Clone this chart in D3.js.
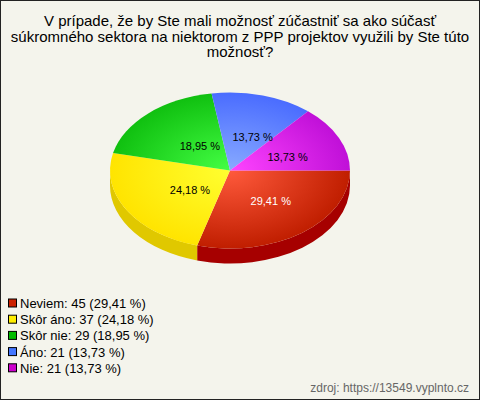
<!DOCTYPE html>
<html><head><meta charset="utf-8">
<script src="https://cdn.jsdelivr.net/npm/d3@7"></script>
<style>body{margin:0;padding:0;background:#fff}svg{display:block}</style>
</head><body>
<svg id="chart" width="480" height="400"></svg>
<script>
const titleLines = ["V prípade, že by Ste mali možnosť zúčastniť sa ako súčasť",
  "súkromného sektora na niektorom z PPP projektov využili by Ste túto",
  "možnosť?"];
const categories = ["Neviem", "Skôr áno", "Skôr nie", "Áno", "Nie"];
const counts = [45, 37, 29, 21, 21];
const topLight = ["#ff5a3c", "#ffff30", "#44ff44", "#88aaff", "#ff44ff"];
const topDark  = ["#c01e00", "#ffe400", "#10c010", "#4a6cff", "#c010d8"];
const sideColors = ["#a60000", "#e0c800", "#009000", "#2040c0", "#9000a0"];
const legendColors = ["#cc2200", "#ffee00", "#00bb00", "#4477ff", "#cc00cc"];
const labelColors = ["#ffffff", "#000000", "#000000", "#000000", "#000000"];
const sourceText = "zdroj: https://13549.vyplnto.cz";

const W = 480, H = 400;
const svg = d3.select("#chart");
svg.append("rect").attr("x",0.5).attr("y",0.5).attr("width",W-1).attr("height",H-1)
  .attr("fill","#f4f4ec").attr("stroke","#222");

svg.append("g").selectAll("text").data(titleLines).join("text")
  .attr("x", 240).attr("y", (d,i)=>26 + i*15.7)
  .attr("text-anchor","middle").attr("font-family","Liberation Sans, Arial, sans-serif")
  .attr("font-size",15).attr("fill","#000").text(d=>d);

const cx = 230, cy = 170.5, rx = 120, ry = 78, depth = 15;
const total = d3.sum(counts);
const pie = d3.pie().sort(null).startAngle(Math.PI/2).endAngle(Math.PI/2 + 2*Math.PI);
const arcs = pie(counts).map((a,i)=>({i, t0:a.startAngle-Math.PI/2, t1:a.endAngle-Math.PI/2, v:a.value}));
const px = t => cx + rx*Math.cos(t), py = t => cy + ry*Math.sin(t);

const defs = svg.append("defs");
arcs.forEach(a=>{
  const g = defs.append("radialGradient").attr("id","g"+a.i)
    .attr("gradientUnits","userSpaceOnUse").attr("cx",cx).attr("cy",cy).attr("r",rx)
    .attr("fx",cx).attr("fy",cy)
    .attr("gradientTransform",`translate(${cx},${cy}) scale(1,${ry/rx}) translate(${-cx},${-cy})`);
  g.append("stop").attr("offset","0%").attr("stop-color",topLight[a.i]);
  g.append("stop").attr("offset","100%").attr("stop-color",topDark[a.i]);
});

// sides (front half only: 0..PI)
const sides = svg.append("g");
arcs.forEach(a=>{
  const s = Math.max(a.t0, 0), e = Math.min(a.t1, Math.PI);
  if (e <= s) return;
  const d = `M${px(s)},${py(s)} A${rx},${ry} 0 0 1 ${px(e)},${py(e)} L${px(e)},${py(e)+depth} A${rx},${ry} 0 0 0 ${px(s)},${py(s)+depth} Z`;
  sides.append("path").attr("d",d).attr("fill",sideColors[a.i]);
});

const tops = svg.append("g");
arcs.forEach(a=>{
  const large = (a.t1-a.t0) > Math.PI ? 1 : 0;
  const d = `M${cx},${cy} L${px(a.t0)},${py(a.t0)} A${rx},${ry} 0 ${large} 1 ${px(a.t1)},${py(a.t1)} Z`;
  tops.append("path").attr("d",d).attr("fill",`url(#g${a.i})`);
});

const fmt = v => (v/total*100).toFixed(2).replace(".",",") + " %";
const lcx = cx + 7.5, lcy = cy + 1.5, lf = 0.46;
svg.append("g").selectAll("text").data(arcs).join("text")
  .attr("x", a=> lcx + rx*lf*Math.cos((a.t0+a.t1)/2))
  .attr("y", a=> lcy + ry*lf*Math.sin((a.t0+a.t1)/2) + 4)
  .attr("text-anchor","middle").attr("font-family","Liberation Sans, Arial, sans-serif")
  .attr("font-size",11).attr("fill",a=>labelColors[a.i]).text(a=>fmt(a.v));

const leg = svg.append("g").selectAll("g").data(categories).join("g")
  .attr("transform",(d,i)=>`translate(8,${298.5 + i*16.2})`);
leg.append("rect").attr("x",0.5).attr("y",0.5).attr("width",8).attr("height",8)
  .attr("fill",(d,i)=>legendColors[i]).attr("stroke","#000");
leg.append("text").attr("x",12).attr("y",9.5).attr("font-family","Liberation Sans, Arial, sans-serif")
  .attr("font-size",13).attr("fill","#000")
  .text((d,i)=>`${d}: ${counts[i]} (${fmt(counts[i])})`);

svg.append("text").attr("x",469).attr("y",392).attr("text-anchor","end")
  .attr("font-family","Liberation Sans, Arial, sans-serif").attr("font-size",12)
  .attr("fill","#666").text(sourceText);
</script>
</body></html>
